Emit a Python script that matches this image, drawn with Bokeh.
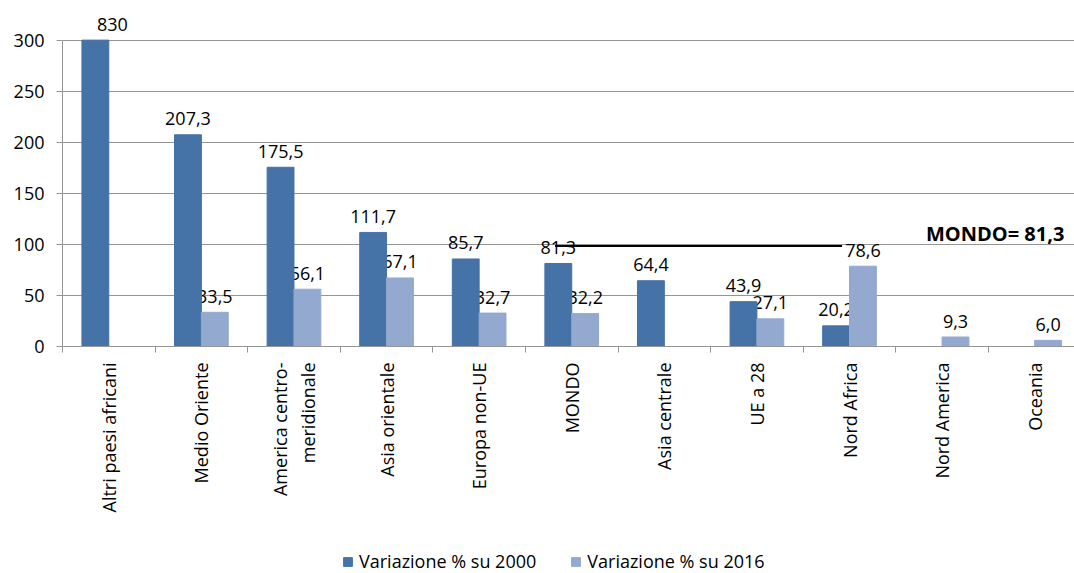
import math
from bokeh.plotting import figure
from bokeh.layouts import column
from bokeh.models import Range1d, FixedTicker, Label, Legend, LegendItem, ColumnDataSource
from bokeh.core.properties import value
from bokeh.embed import file_html
from bokeh.resources import INLINE

# ---- data ----
categories = ["Altri paesi africani", "Medio Oriente", "America centro-\nmeridionale",
              "Asia orientale", "Europa non-UE", "MONDO", "Asia centrale", "UE a 28",
              "Nord Africa", "Nord America", "Oceania"]
var_2000 = [830, 207.3, 175.5, 111.7, 85.7, 81.3, 64.4, 43.9, 20.2, None, None]
var_2016 = [None, 33.5, 56.1, 67.1, 32.7, 32.2, None, 27.1, 78.6, 9.3, 6.0]
lab_2000 = ["830", "207,3", "175,5", "111,7", "85,7", "81,3", "64,4", "43,9", "20,2", "", ""]
lab_2016 = ["", "33,5", "56,1", "67,1", "32,7", "32,2", "", "27,1", "78,6", "9,3", "6,0"]
series_names = ["Variazione % su 2000", "Variazione % su 2016"]
mondo_value_text = "MONDO= 81,3"
mondo_line_level = 98.5          # level of the drawn reference line, as seen in the picture
y_ticks = [0, 50, 100, 150, 200, 250, 300]
y_max_shown = 300

DARK = "#4572A7"
LIGHT = "#93A9CF"
FONT = "Open Sans"

n = len(categories)
centers = [i + 0.5 for i in range(n)]
bw = 0.29
off = 0.145

def build(vals, labs, shift):
    xs = [c + shift for c in centers]
    tops = [min(v, y_max_shown) if v is not None else 0 for v in vals]
    xo = [17 if (v is not None and v > y_max_shown) else 0 for v in vals]
    return ColumnDataSource(dict(x=xs, top=tops, t=labs, xo=xo))

s1 = build(var_2000, lab_2000, -off)
s2 = build(var_2016, lab_2016, off)

p = figure(width=1074, height=545, x_range=Range1d(0, 10.93), y_range=Range1d(0, 330),
           output_backend="svg", toolbar_location=None,
           min_border_left=62, min_border_right=0, min_border_top=9, min_border_bottom=199)
p.outline_line_color = None
p.background_fill_color = "white"

# data labels (drawn first: bars overlap them as in the original)
for s in (s1, s2):
    p.text(x="x", y="top", text="t", source=s, text_align="center", text_baseline="alphabetic",
           y_offset=-16, x_offset="xo", text_font=value(FONT), text_font_size="18px",
           text_color="#000000")

r1 = p.vbar(x="x", top="top", width=bw, source=s1, fill_color=DARK, line_color=DARK, line_width=1)
r2 = p.vbar(x="x", top="top", width=bw, source=s2, fill_color=LIGHT, line_color=LIGHT, line_width=1)

# MONDO reference line from the MONDO group to the Nord Africa group
i_m = categories.index("MONDO")
i_n = categories.index("Nord Africa")
p.line(x=[centers[i_m] - 0.18, centers[i_n] - 0.08], y=[mondo_line_level, mondo_line_level],
       line_color="black", line_width=2)

p.add_layout(Label(x=10.82, y=111, text=mondo_value_text, text_align="right",
                   text_baseline="alphabetic", text_font=FONT, text_font_size="20px",
                   text_font_style="bold", text_color="#000000"))

# axes
GRAY = "#959595"
p.yaxis.ticker = FixedTicker(ticks=y_ticks)
p.yaxis.bounds = (0, y_max_shown)
p.yaxis.axis_line_color = GRAY
p.yaxis.major_tick_line_color = GRAY
p.yaxis.major_tick_out = 6
p.yaxis.major_tick_in = 0
p.yaxis.minor_tick_line_color = None
p.yaxis.major_label_standoff = 12
p.yaxis.major_label_text_font = FONT
p.yaxis.major_label_text_font_size = "18px"
p.yaxis.major_label_text_color = "#000000"

p.xaxis.ticker = FixedTicker(ticks=centers, minor_ticks=list(range(n)))
p.xaxis.major_label_overrides = {c: name for c, name in zip(centers, categories)}
p.xaxis.major_label_orientation = math.pi / 2
p.xaxis.axis_line_color = GRAY
p.xaxis.major_tick_line_color = None
p.xaxis.major_tick_out = 0
p.xaxis.major_tick_in = 0
p.xaxis.minor_tick_line_color = GRAY
p.xaxis.minor_tick_out = 6
p.xaxis.minor_tick_in = 0
p.xaxis.major_label_standoff = 10
p.xaxis.major_label_text_font = FONT
p.xaxis.major_label_text_font_size = "18px"
p.xaxis.major_label_text_color = "#000000"

p.xgrid.grid_line_color = None
p.ygrid.grid_line_color = GRAY
p.ygrid.grid_line_width = 1

# legend strip under the chart (its frame is aligned with the chart's frame)
q = figure(width=1074, height=28, x_range=Range1d(0, 1), y_range=Range1d(0, 1),
           output_backend="svg", toolbar_location=None, min_border=0,
           x_axis_type=None, y_axis_type=None)
q.outline_line_color = None
q.xgrid.visible = False
q.ygrid.visible = False
# legend keys: one bar each, placed outside the visible range of this strip
k1 = q.vbar(x=[5], top=[1], width=0.1, fill_color=DARK, line_color=DARK)
k2 = q.vbar(x=[5], top=[1], width=0.1, fill_color=LIGHT, line_color=LIGHT)
legend = Legend(items=[LegendItem(label=series_names[0], renderers=[k1]),
                       LegendItem(label=series_names[1], renderers=[k2])],
                location=(280, 0), orientation="horizontal",
                border_line_color=None, background_fill_alpha=0, padding=0, margin=0,
                spacing=34, label_standoff=6, glyph_width=11, glyph_height=11,
                label_text_font=FONT, label_text_font_size="18px", label_text_color="#000000")
q.add_layout(legend, "center")

open("out.html", "w").write(file_html(column(p, q, spacing=0), INLINE))
